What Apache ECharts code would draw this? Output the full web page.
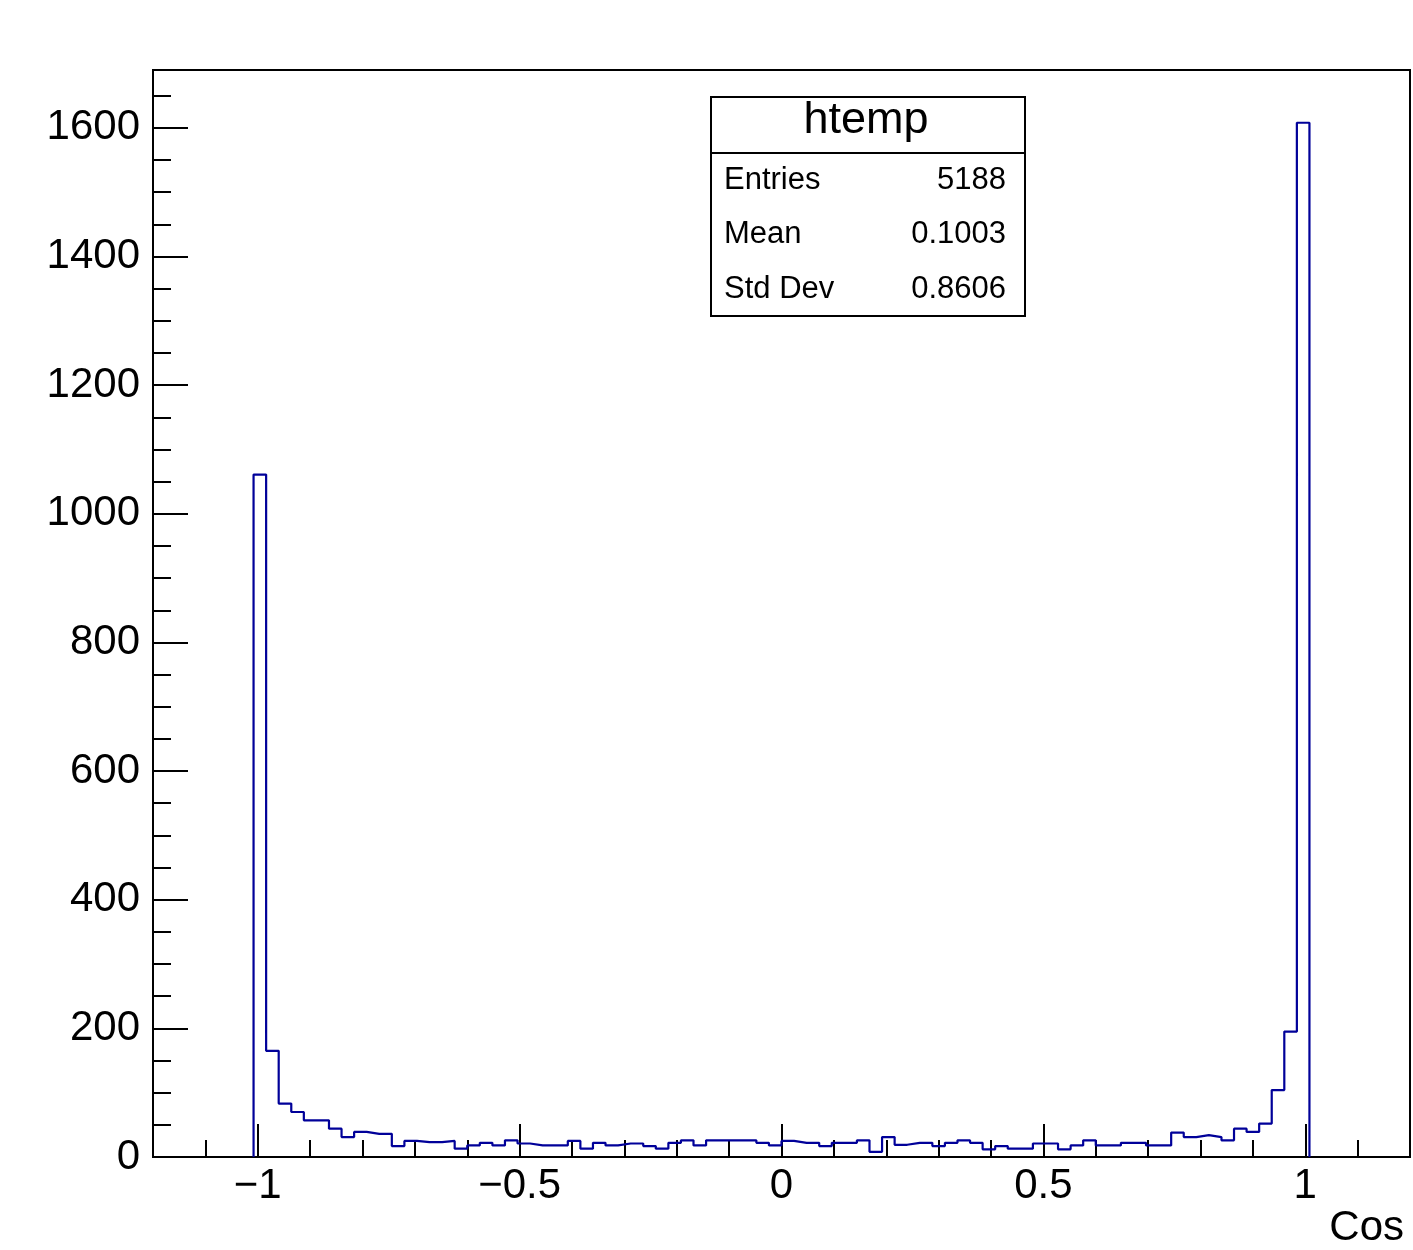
<!DOCTYPE html>
<html>
<head>
<meta charset="utf-8">
<style>
  html, body { margin: 0; padding: 0; background: #ffffff; }
  #chart { width: 1413px; height: 1250px; }
</style>
<script src="https://cdn.jsdelivr.net/npm/echarts@6/dist/echarts.min.js"></script>
</head>
<body>
<div id="chart"></div>
<script>
// Histogram binning (100 bins over [-1.2, 1.2]); only non-empty bins listed
const histMin = -1.2;
const histMax = 1.2;
const binWidth = 0.024;
const firstBinLow = -1.008;   // low edge of the first non-empty bin

// Counts of the non-empty bins, left to right
const counts = [
  1061, 165, 83, 70, 57, 57, 44, 31, 39, 36,
  36, 17, 25, 23, 23, 25, 13, 18, 22, 18,
  26, 21, 18, 18, 18, 25, 13, 22, 18, 21,
  21, 17, 13, 22, 26, 18, 26, 26, 26, 26,
  22, 18, 25, 22, 22, 17, 22, 22, 26, 8,
  31, 19, 22, 22, 17, 22, 26, 22, 12, 17,
  13, 13, 21, 21, 12, 18, 26, 18, 18, 22,
  22, 18, 18, 38, 31, 34, 31, 26, 44, 39,
  52, 104, 195, 1608
];

// Axis ticks and labels
const xMajorTicks = [-1, -0.5, 0, 0.5, 1];
const xMinorTicks = [-1.1, -0.9, -0.8, -0.7, -0.6, -0.4, -0.3, -0.2, -0.1,
                     0.1, 0.2, 0.3, 0.4, 0.6, 0.7, 0.8, 0.9, 1.1];
const xTickLabels = ['\u22121', '\u22120.5', '0', '0.5', '1'];
const yMax = 1690;
const yMajorTicks = [0, 200, 400, 600, 800, 1000, 1200, 1400, 1600];
const yTickLabels = ['0', '200', '400', '600', '800', '1000', '1200', '1400', '1600'];
const yMinorTicks = [50, 100, 150, 250, 300, 350, 450, 500, 550, 650, 700, 750,
                     850, 900, 950, 1050, 1100, 1150, 1250, 1300, 1350, 1450,
                     1500, 1550, 1650];
const xTitle = 'Cos';

// Stats box
const statsTitle = 'htemp';
const statsNames = ['Entries', 'Mean', 'Std Dev'];
const statsValues = ['5188', '0.1003', '0.8606'];

// Build histogram outline vertices: each bin contributes its two top corners
const outline = [[firstBinLow, 0]];
counts.forEach(function (c, i) {
  const lo = +(firstBinLow + i * binWidth).toFixed(4);
  const hi = +(firstBinLow + (i + 1) * binWidth).toFixed(4);
  outline.push([lo, c]);
  outline.push([hi, c]);
});
outline.push([+(firstBinLow + counts.length * binWidth).toFixed(4), 0]);

const FONT = '"Liberation Sans", Arial, Helvetica, sans-serif';

function labelFor(ticks, labels) {
  return function (v) {
    const idx = ticks.findIndex(function (t) { return Math.abs(t - v) < 1e-9; });
    return idx >= 0 ? labels[idx] : '';
  };
}

const chart = echarts.init(document.getElementById('chart'), null, { renderer: 'canvas' });

const gridLeft = 153, gridTop = 70, gridRight = 3, gridBottom = 93;

const statsChildren = [
  { type: 'rect', shape: { x: 711, y: 97, width: 314, height: 219 },
    style: { fill: '#ffffff', stroke: '#000000', lineWidth: 2 } },
  { type: 'line', shape: { x1: 711, y1: 153, x2: 1025, y2: 153 },
    style: { stroke: '#000000', lineWidth: 2 } },
  { type: 'text', x: 866, y: 121,
    style: { text: statsTitle, font: '45px ' + FONT, fill: '#000000',
             align: 'center', verticalAlign: 'middle' } }
];
const rowY = [180, 234, 289];
statsNames.forEach(function (n, i) {
  statsChildren.push({ type: 'text', x: 724, y: rowY[i],
    style: { text: n, font: '31px ' + FONT, fill: '#000000', align: 'left', verticalAlign: 'middle' } });
  statsChildren.push({ type: 'text', x: 1006, y: rowY[i],
    style: { text: statsValues[i], font: '31px ' + FONT, fill: '#000000', align: 'right', verticalAlign: 'middle' } });
});

const option = {
  backgroundColor: '#ffffff',
  animation: false,
  grid: {
    left: gridLeft, top: gridTop, right: gridRight, bottom: gridBottom,
    show: true, borderColor: '#000000', borderWidth: 2, backgroundColor: 'transparent'
  },
  xAxis: [
    {
      type: 'value', min: histMin, max: histMax, position: 'bottom',
      name: xTitle, nameLocation: 'end', nameGap: -6,
      nameTextStyle: { fontFamily: FONT, fontSize: 42, color: '#000000',
                       align: 'right', verticalAlign: 'top', padding: [50, 0, 0, 0] },
      axisLine: { show: true, onZero: false, lineStyle: { color: '#000000', width: 2 } },
      axisTick: { show: true, inside: true, length: 33, customValues: xMajorTicks,
                  lineStyle: { color: '#000000', width: 2 } },
      axisLabel: {
        show: true, customValues: xMajorTicks, margin: 8,
        fontFamily: FONT, fontSize: 42, color: '#000000',
        formatter: labelFor(xMajorTicks, xTickLabels)
      },
      splitLine: { show: false }
    },
    {
      type: 'value', min: histMin, max: histMax, position: 'bottom', gridIndex: 0,
      axisLine: { show: false, onZero: false },
      axisTick: { show: true, inside: true, length: 17, customValues: xMinorTicks,
                  lineStyle: { color: '#000000', width: 2 } },
      axisLabel: { show: false },
      splitLine: { show: false }
    }
  ],
  yAxis: [
    {
      type: 'value', min: 0, max: yMax, position: 'left',
      axisLine: { show: true, onZero: false, lineStyle: { color: '#000000', width: 2 } },
      axisTick: { show: true, inside: true, length: 35, customValues: yMajorTicks,
                  lineStyle: { color: '#000000', width: 2 } },
      axisLabel: { show: true, customValues: yMajorTicks, margin: 13,
                   fontFamily: FONT, fontSize: 42, color: '#000000',
                   formatter: labelFor(yMajorTicks, yTickLabels) },
      splitLine: { show: false }
    },
    {
      type: 'value', min: 0, max: yMax, position: 'left', gridIndex: 0,
      axisLine: { show: false, onZero: false },
      axisTick: { show: true, inside: true, length: 18, customValues: yMinorTicks,
                  lineStyle: { color: '#000000', width: 2 } },
      axisLabel: { show: false },
      splitLine: { show: false }
    }
  ],
  series: [
    {
      type: 'line', xAxisIndex: 0, yAxisIndex: 0,
      data: outline, showSymbol: false, symbol: 'none', smooth: false,
      sampling: null,
      lineStyle: { color: '#000099', width: 2.2 },
      clip: true, z: 3
    }
  ],
  graphic: [
    { type: 'group', z: 100, children: statsChildren }
  ]
};

chart.setOption(option);
</script>
</body>
</html>
